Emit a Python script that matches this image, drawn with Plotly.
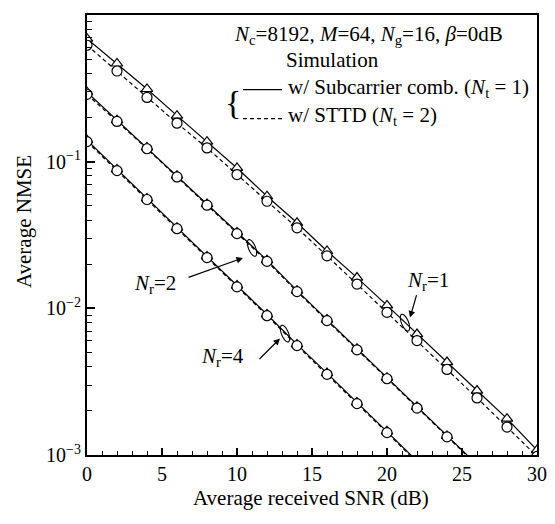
import math
import plotly.graph_objects as go

# ---------------- data ----------------
snr = [0, 2, 4, 6, 8, 10, 12, 14, 16, 18, 20, 22, 24, 26, 28, 30]

# N_r = 1
nr1_comb = [0.690, 0.467, 0.313, 0.206, 0.137, 0.0906, 0.0581, 0.0383, 0.0246,
            0.0162, 0.01047, 0.00668, 0.00430, 0.00275, 0.00177, 0.00108]
nr1_sttd = [0.622, 0.415, 0.274, 0.183, 0.124, 0.0817, 0.0537, 0.0354, 0.0228,
            0.01462, 0.00938, 0.00603, 0.00383, 0.00245, 0.00155, 0.00098]

# N_r = 2
snr_nr2 = [0, 2, 4, 6, 8, 10, 12, 14, 16, 18, 20, 22, 24, 26]
nr2_comb = [0.298, 0.192, 0.1250, 0.0802, 0.0514, 0.0329, 0.0213, 0.0132,
            0.00838, 0.00530, 0.00337, 0.00213, 0.00135, 0.00086]
nr2_sttd = [0.288, 0.188, 0.1225, 0.0787, 0.0505, 0.0323, 0.0209, 0.0130,
            0.00824, 0.00521, 0.00331, 0.00209, 0.00133, 0.00085]

# N_r = 4
snr_nr4 = [0, 2, 4, 6, 8, 10, 12, 14, 16, 18, 20, 22]
nr4_comb = [0.140, 0.0885, 0.0562, 0.0355, 0.0226, 0.0143, 0.00908, 0.00568,
            0.00362, 0.00228, 0.00145, 0.00091]
nr4_sttd = [0.137, 0.0869, 0.0552, 0.0349, 0.0222, 0.0140, 0.00891, 0.00557,
            0.00355, 0.00224, 0.00142, 0.00089]

y_tickvals = [1, 0.1, 0.01, 0.001]
y_ticktext = ["1", "10<sup>\u22121</sup>", "10<sup>\u22122</sup>", "10<sup>\u22123</sup>"]
x_tickvals = [0, 5, 10, 15, 20, 25, 30]

# ---------------- layout geometry ----------------
OFF = 8                      # default body margin of the html page
W, H = 555 - OFF, 524 - OFF  # figure size
PL, PR, PT, PB = 87, 537, 13, 455   # plot area in page pixels
L, T = PL - OFF, PT - OFF
R, B = W - (PR - OFF), H - (PB - OFF)
FONT = "Liberation Serif"


def px(x):  # page pixel -> paper
    return (x - PL) / (PR - PL)


def py(y):
    return (PB - y) / (PB - PT)


fig = go.Figure()

solid = dict(color="black", width=1.2)
dashed = dict(color="black", width=1.2, dash="4px,3px")
tri = dict(symbol="triangle-up", size=10, color="white",
           line=dict(color="black", width=1.2))
circ = dict(symbol="circle", size=10, color="white",
            line=dict(color="black", width=1.2))

for xs, ys in [(snr, nr1_comb), (snr_nr2, nr2_comb), (snr_nr4, nr4_comb)]:
    fig.add_trace(go.Scatter(x=xs, y=ys, mode="lines+markers", line=solid,
                             marker=tri, showlegend=False))
for xs, ys in [(snr, nr1_sttd), (snr_nr2, nr2_sttd), (snr_nr4, nr4_sttd)]:
    fig.add_trace(go.Scatter(x=xs, y=ys, mode="lines+markers", line=dashed,
                             marker=circ, showlegend=False))

annotations = []


def text(x, y, s, size=21, xanchor="center"):
    annotations.append(dict(xref="paper", yref="paper", x=px(x), y=py(y),
                            text=s, showarrow=False, xanchor=xanchor,
                            yanchor="middle",
                            font=dict(family=FONT, size=size, color="black")))


def arrow(xh, yh, xt, yt):
    annotations.append(dict(xref="paper", yref="paper", x=px(xh), y=py(yh),
                            ax=xt - xh, ay=yt - yh, axref="pixel", ayref="pixel",
                            text="", showarrow=True, arrowhead=2, arrowsize=1.1,
                            arrowwidth=1.2, arrowcolor="black"))


text(368, 33, "<i>N</i><sub>c</sub>=8192, <i>M</i>=64, <i>N</i><sub>g</sub>=16, <i>\u03b2</i>=0dB")
text(332, 58, "Simulation")
text(286, 86, "w/ Subcarrier comb. (<i>N</i><sub>t</sub> = 1)", xanchor="left")
text(286, 114, "w/ STTD (<i>N</i><sub>t</sub> = 2)", xanchor="left")
text(233, 101, "{", size=34)

text(428, 280, "<i>N</i><sub>r</sub>=1")
text(155, 283, "<i>N</i><sub>r</sub>=2")
text(222, 357, "<i>N</i><sub>r</sub>=4")
arrow(410, 317, 417, 293)
arrow(243, 257, 187, 277)
arrow(280, 338, 258, 360)

text(311, 498, "Average received SNR (dB)")
annotations.append(dict(xref="paper", yref="paper", x=px(24), y=py(220),
                        text="Average NMSE", showarrow=False, textangle=-90,
                        xanchor="center", yanchor="middle",
                        font=dict(family=FONT, size=21, color="black")))

shapes = []
shapes.append(dict(type="line", xref="paper", yref="paper",
                   x0=px(243), x1=px(282), y0=py(88), y1=py(88),
                   line=dict(color="black", width=1.2)))
shapes.append(dict(type="line", xref="paper", yref="paper",
                   x0=px(243), x1=px(282), y0=py(117), y1=py(117),
                   line=dict(color="black", width=1.2, dash="4px,3px")))


def loop(cx, cy, rx=3.5, ry=9, tilt=22):
    th = math.radians(tilt)
    pts = []
    for k in range(25):
        a = 2 * math.pi * k / 24
        ex, ey = rx * math.cos(a), ry * math.sin(a)
        X = cx + ex * math.cos(th) + ey * math.sin(th)
        Y = cy - ex * math.sin(th) + ey * math.cos(th)
        pts.append(f"{px(X):.5f},{py(Y):.5f}")
    return dict(type="path", xref="paper", yref="paper",
                path="M " + " L ".join(pts) + " Z",
                line=dict(color="black", width=1.1))


shapes.append(loop(405, 322))
shapes.append(loop(252, 247))
shapes.append(loop(285, 333))

fig.update_layout(
    width=W, height=H,
    margin=dict(l=L, r=R, t=T, b=B, pad=0),
    paper_bgcolor="white", plot_bgcolor="white",
    font=dict(family=FONT, size=20, color="black"),
    annotations=annotations, shapes=shapes,
    xaxis=dict(range=[0, 30], tickvals=x_tickvals, ticks="inside", ticklen=7,
               tickwidth=1.5, tickcolor="black", showline=True, linewidth=2,
               linecolor="black", mirror=True, showgrid=False, zeroline=False,
               tickfont=dict(family=FONT, size=20),
               minor=dict(dtick=1, ticks="inside", ticklen=4, tickwidth=1.2,
                          tickcolor="black", showgrid=False)),
    yaxis=dict(type="log", range=[-3, 0], tickvals=y_tickvals, ticktext=y_ticktext,
               ticks="inside", ticklen=8, tickwidth=1.5, tickcolor="black",
               showline=True, linewidth=2, linecolor="black", mirror=True,
               showgrid=False, zeroline=False,
               tickfont=dict(family=FONT, size=20),
               minor=dict(tickvals=[m * 10 ** e for e in (-3, -2, -1) for m in range(2, 10)],
                          ticks="inside", ticklen=5, tickwidth=1.2,
                          tickcolor="black", showgrid=False)),
)

fig.write_html("out.html")
